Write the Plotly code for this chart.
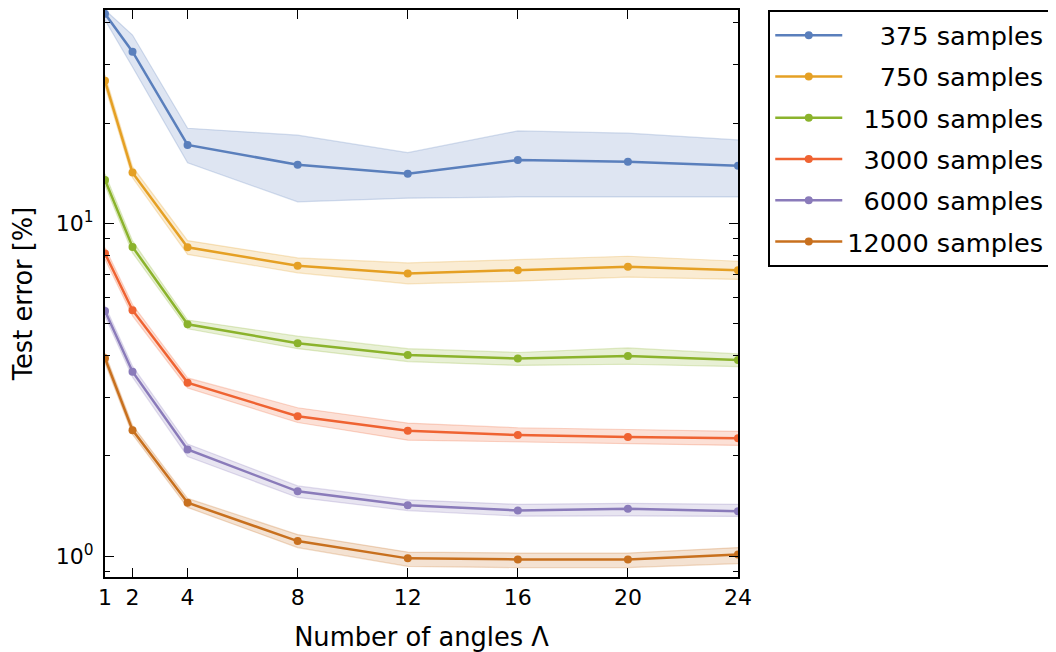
import plotly.graph_objects as go

angles = [1, 2, 4, 8, 12, 16, 20, 24]
labels = ["375 samples", "750 samples", "1500 samples", "3000 samples", "6000 samples", "12000 samples"]
colors = ["#5a7fbc", "#e5a024", "#8bb32c", "#ef6332", "#8a7bba", "#c8701e"]

err_375 = [42.6, 32.8, 17.2, 15.0, 14.1, 15.5, 15.3, 14.9]
up_375 = [43.8, 36.8, 19.3, 18.4, 16.3, 18.95, 18.65, 17.8]
lo_375 = [40.8, 29.5, 15.2, 11.6, 11.9, 12.0, 12.0, 12.0]

err_750 = [26.8, 14.2, 8.47, 7.45, 7.07, 7.23, 7.40, 7.23]
up_750 = [27.9, 14.8, 8.87, 7.87, 7.60, 7.78, 7.96, 7.69]
lo_750 = [25.8, 13.7, 8.06, 7.10, 6.58, 6.70, 6.89, 6.78]

err_1500 = [13.5, 8.49, 4.97, 4.36, 4.02, 3.92, 3.99, 3.88]
up_1500 = [14.1, 8.85, 5.12, 4.58, 4.20, 4.09, 4.22, 4.05]
lo_1500 = [13.0, 8.15, 4.82, 4.20, 3.84, 3.74, 3.77, 3.71]

err_3000 = [8.12, 5.48, 3.32, 2.63, 2.38, 2.31, 2.28, 2.26]
up_3000 = [8.45, 5.70, 3.43, 2.79, 2.51, 2.43, 2.40, 2.37]
lo_3000 = [7.80, 5.27, 3.20, 2.52, 2.23, 2.20, 2.17, 2.15]

err_6000 = [5.45, 3.58, 2.09, 1.565, 1.422, 1.371, 1.387, 1.364]
up_6000 = [5.65, 3.72, 2.17, 1.625, 1.475, 1.430, 1.440, 1.430]
lo_6000 = [5.25, 3.45, 1.99, 1.500, 1.370, 1.318, 1.320, 1.315]

err_12000 = [3.93, 2.39, 1.446, 1.109, 0.984, 0.977, 0.977, 1.01]
up_12000 = [4.07, 2.47, 1.49, 1.160, 1.028, 1.021, 1.021, 1.06]
lo_12000 = [3.80, 2.32, 1.40, 1.060, 0.931, 0.923, 0.923, 0.949]

series = [
    (err_375, up_375, lo_375),
    (err_750, up_750, lo_750),
    (err_1500, up_1500, lo_1500),
    (err_3000, up_3000, lo_3000),
    (err_6000, up_6000, lo_6000),
    (err_12000, up_12000, lo_12000),
]

x_ticks = [1, 2, 4, 8, 12, 16, 20, 24]
y_major = [1, 10]
y_major_text = ["10<sup>0</sup>", "10<sup>1</sup>"]
y_minor = [0.9, 2, 3, 4, 5, 6, 7, 8, 9, 20, 30, 40]


def rgba(hexc, a):
    h = hexc.lstrip("#")
    r, g, b = int(h[0:2], 16), int(h[2:4], 16), int(h[4:6], 16)
    return f"rgba({r},{g},{b},{a})"


fig = go.Figure()
for (err, up, lo), lab, col in zip(series, labels, colors):
    fig.add_trace(go.Scatter(x=angles, y=up, mode="lines",
                             line=dict(color=rgba(col, 0.25), width=1.2),
                             showlegend=False, hoverinfo="skip"))
    fig.add_trace(go.Scatter(x=angles, y=lo, mode="lines",
                             line=dict(color=rgba(col, 0.25), width=1.2),
                             fill="tonexty", fillcolor=rgba(col, 0.2),
                             showlegend=False, hoverinfo="skip"))

for i, ((err, up, lo), lab, col) in enumerate(zip(series, labels, colors)):
    pad = "\u00a0\u00a0" * (13 - len(lab))
    fig.add_trace(go.Scatter(x=angles, y=err, mode="lines+markers",
                             name=pad + lab, legendgroup=f"g{i}",
                             line=dict(color=col, width=2.5),
                             marker=dict(color=col, size=8)))

axis_common = dict(
    showline=True, linecolor="black", linewidth=2, mirror="allticks",
    ticks="inside", ticklen=9, tickwidth=1.2, tickcolor="black",
    showgrid=False, zeroline=False,
    tickfont=dict(family="DejaVu Sans", size=22, color="black"),
)

# page body has an 8px margin; the figure fills the rest of the window
fig.update_layout(
    width=1048, height=644,
    margin=dict(l=96.5, r=318.3, t=0, b=75),
    plot_bgcolor="white", paper_bgcolor="white",
    font=dict(family="DejaVu Sans", color="black"),
    xaxis=dict(range=[1, 24], tickvals=x_ticks,
               title=dict(text="Number of angles Λ", font=dict(size=25.7), standoff=20),
               **axis_common),
    yaxis=dict(type="log", range=[-0.063, 1.641], tickvals=y_major, ticktext=y_major_text,
               ticklabelstandoff=5,
               minor=dict(ticks="inside", ticklen=5, tickwidth=1.2, tickcolor="black",
                          tickvals=y_minor, showgrid=False),
               title=dict(text="Test error [%]", font=dict(size=25.7), standoff=18),
               **axis_common),
    legend=dict(x=1.0478, y=1.0, xanchor="left", yanchor="top",
                bordercolor="black", borderwidth=2, bgcolor="white",
                font=dict(family="DejaVu Sans", size=25.6, color="black"),
                tracegroupgap=5, itemwidth=67),
)

fig.write_html("out.html")
